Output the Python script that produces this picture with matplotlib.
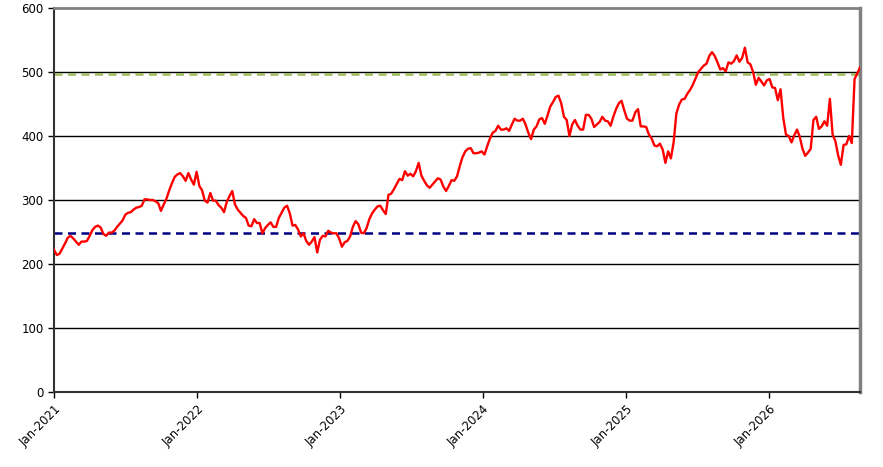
import pandas as pd
import matplotlib
matplotlib.use('Agg')
import matplotlib.pyplot as plt
import matplotlib.dates as mdates

# Weekly closing values, starting first week of Jan 2021
start_date = '2021-01-01'
prices_2021 = [222, 214, 216, 224, 232, 241, 244, 240, 235, 230, 235, 235, 236, 244, 253, 258,
               260, 257, 247, 244, 249, 249, 252, 258, 263, 268, 277, 280, 281, 285, 288, 289,
               291, 301, 301, 300, 300, 298, 295, 283, 293, 302, 315, 326, 336, 340, 342, 337,
               330, 342, 332, 324]
prices_2022 = [344, 322, 315, 299, 296, 311, 299, 299, 292, 288, 281, 297, 306, 314, 293, 285,
               280, 275, 272, 260, 259, 270, 264, 264, 248, 256, 261, 265, 258, 258, 272, 280,
               288, 291, 279, 260, 261, 254, 243, 248, 236, 230, 235, 242, 218, 238, 244, 243,
               252, 249, 248, 248, 240]
prices_2023 = [227, 234, 236, 243, 258, 267, 262, 249, 248, 256, 270, 279, 285, 290, 291, 284,
               278, 308, 310, 317, 325, 333, 331, 345, 338, 341, 337, 345, 358, 338, 330, 323,
               319, 324, 329, 334, 332, 321, 314, 322, 331, 330, 337, 353, 367, 376, 380, 381,
               373, 373, 374, 376]
prices_2024 = [371, 384, 396, 405, 408, 416, 410, 410, 412, 408, 418, 427, 424, 424, 427, 418,
               405, 395, 410, 415, 426, 428, 419, 432, 446, 453, 461, 463, 451, 430, 425, 400,
               418, 425, 416, 410, 410, 433, 433, 427, 414, 418, 422, 430, 424, 423, 416, 430,
               442, 451, 455, 440]
prices_2025 = [427, 424, 424, 437, 442, 415, 415, 414, 402, 396, 385, 384, 388, 379, 358, 376,
               365, 390, 435, 449, 457, 458, 466, 472, 480, 490, 500, 505, 510, 513, 525, 531,
               525, 515, 504, 506, 501, 515, 513, 517, 526, 516, 522, 538, 515, 512, 500, 480,
               491, 485, 479, 487]
prices_2026 = [489, 476, 475, 456, 473, 428, 402, 400, 390, 401, 410, 399, 380, 369, 374, 380,
               425, 430, 411, 415, 423, 416, 458, 402, 392, 370, 355, 386, 387, 400, 389, 489,
               498, 507]

prices = prices_2021 + prices_2022 + prices_2023 + prices_2024 + prices_2025 + prices_2026
dates = pd.date_range(start_date, periods=len(prices), freq='7D')

low_level = 248
high_level = 497
y_ticks = [0, 100, 200, 300, 400, 500, 600]
x_ticks = ['2021-01-01', '2022-01-01', '2023-01-01', '2024-01-01', '2025-01-01', '2026-01-01']

fig = plt.figure(figsize=(8.83, 4.67), dpi=100)
ax = fig.add_axes([0.0612, 0.1606, 0.9128, 0.8223])

# horizontal grid
for v in y_ticks[1:-1]:
    ax.axhline(v, color='black', lw=1.0, zorder=1)

ax.axhline(high_level, color='#9BBB59', lw=1.8, ls=(0, (3.2, 2.2)), zorder=2)
ax.axhline(low_level, color='#000080', lw=1.8, ls=(0, (3.2, 2.2)), zorder=2)
ax.plot(dates, prices, color='#FF0000', lw=1.7, zorder=3)

ax.set_ylim(0, 600)
ax.set_xlim(pd.Timestamp(start_date), dates[-1])
ax.set_yticks(y_ticks)
ax.set_xticks(pd.to_datetime(x_ticks))
ax.xaxis.set_major_formatter(mdates.DateFormatter('%b-%Y'))
ax.tick_params(axis='both', labelsize=8.5, length=4, width=1, color='black', direction='out')
plt.setp(ax.get_xticklabels(), rotation=45, ha='right', rotation_mode='anchor')

ax.spines['top'].set_color('#808080')
ax.spines['top'].set_linewidth(2)
ax.spines['right'].set_color('#808080')
ax.spines['right'].set_linewidth(2.5)
ax.spines['left'].set_color('#333333')
ax.spines['left'].set_linewidth(1.5)
ax.spines['bottom'].set_color('#333333')
ax.spines['bottom'].set_linewidth(1.5)

fig.savefig('out.png', dpi=100)
